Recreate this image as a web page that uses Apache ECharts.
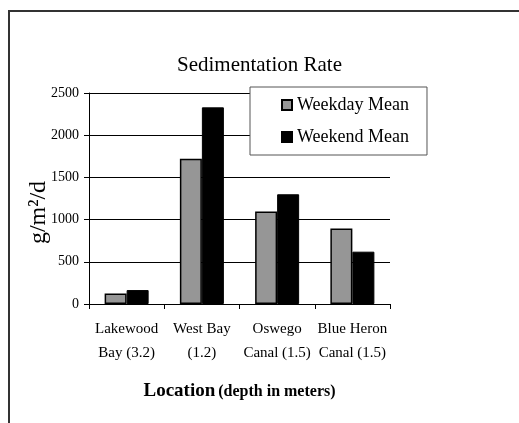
<!DOCTYPE html>
<html>
<head>
<meta charset="utf-8">
<script src="https://cdn.jsdelivr.net/npm/echarts@6/dist/echarts.min.js"></script>
<style>
  html, body { margin: 0; padding: 0; background: #fff; }
  #chart { width: 519px; height: 423px; }
</style>
</head>
<body>
<div id="chart"></div>
<script>
// 数据
const locations = ['Lakewood\nBay (3.2)', 'West Bay\n(1.2)', 'Oswego\nCanal (1.5)', 'Blue Heron\nCanal (1.5)'];
const weekdayMean = [125, 1720, 1095, 895];
const weekendMean = [165, 2330, 1300, 620];
const yTicks = [0, 500, 1000, 1500, 2000, 2500];

const serif = "'Liberation Serif', 'Times New Roman', serif";

const chart = echarts.init(document.getElementById('chart'));
const option = {
  backgroundColor: '#fff',
  textStyle: { fontFamily: serif, color: '#000' },
  // outer frame of the figure
  graphic: [
    {
      type: 'rect',
      shape: { x: 9, y: 11, width: 700, height: 600 },
      style: { fill: 'none', stroke: '#333', lineWidth: 2 },
      silent: true
    }
  ],
  title: {
    text: 'Sedimentation Rate',
    left: 'center',
    top: 50,
    textStyle: { fontFamily: serif, fontSize: 21, fontWeight: 'normal', color: '#000' }
  },
  legend: {
    orient: 'vertical',
    left: 250,
    top: 87,
    padding: [9, 18, 9, 31],
    itemGap: 14,
    itemWidth: 10,
    itemHeight: 10,
    icon: 'rect',
    backgroundColor: '#fff',
    borderColor: '#555',
    borderWidth: 1,
    textStyle: { fontFamily: serif, fontSize: 18, color: '#000' }
  },
  grid: { left: 89, right: 129, top: 93, bottom: 119 },
  xAxis: {
    type: 'category',
    data: locations,
    name: '{a|Location} {b|(depth in meters)}',
    nameLocation: 'middle',
    nameGap: 78,
    nameMoveOverlap: false,
    nameTextStyle: {
      rich: {
        a: { fontFamily: serif, fontSize: 19, fontWeight: 'bold', color: '#000' },
        b: { fontFamily: serif, fontSize: 16, fontWeight: 'bold', color: '#000' }
      }
    },
    axisLine: { lineStyle: { color: '#000', width: 1 } },
    axisTick: { show: true, length: 5, lineStyle: { color: '#000' } },
    axisLabel: { fontFamily: serif, fontSize: 15, color: '#000', lineHeight: 24, margin: 13, interval: 0 }
  },
  yAxis: {
    type: 'value',
    min: yTicks[0],
    max: yTicks[yTicks.length - 1],
    interval: 500,
    name: 'g/m²/d',
    nameLocation: 'middle',
    nameGap: 38,
    nameMoveOverlap: false,
    nameTextStyle: { fontFamily: serif, fontSize: 24, color: '#000', padding: [0, 28, 0, 0] },
    axisLine: { show: true, lineStyle: { color: '#000', width: 1 } },
    axisTick: { show: true, length: 5, lineStyle: { color: '#000' } },
    axisLabel: { fontFamily: serif, fontSize: 14, color: '#000', margin: 10, formatter: (v) => String(v) },
    splitLine: { show: true, lineStyle: { color: '#000', width: 1 } }
  },
  series: [
    {
      name: 'Weekday Mean',
      type: 'bar',
      data: weekdayMean,
      barWidth: 22,
      barGap: '0%',
      itemStyle: { color: '#969696', borderColor: '#000', borderWidth: 1.5 }
    },
    {
      name: 'Weekend Mean',
      type: 'bar',
      data: weekendMean,
      barWidth: 22,
      itemStyle: { color: '#000', borderColor: '#000', borderWidth: 1 }
    }
  ]
};
chart.setOption(option);
</script>
</body>
</html>
